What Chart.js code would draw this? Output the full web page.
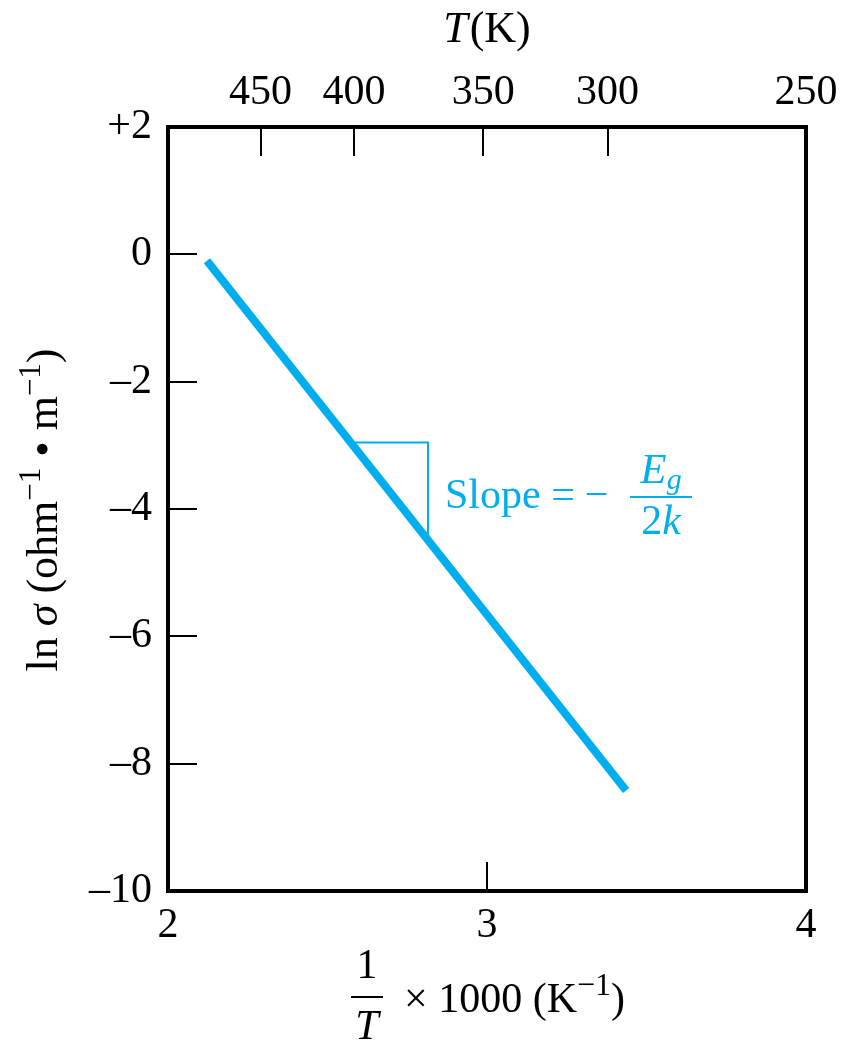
<!DOCTYPE html>
<html><head><meta charset="utf-8">
<script src="https://cdn.jsdelivr.net/npm/chart.js@4.4.1/dist/chart.umd.min.js"></script>
<style>html,body{margin:0;padding:0;background:#fff}#wrap{width:843px;height:1043px}</style>
</head><body><div id="wrap"><canvas id="c" width="843" height="1043"></canvas></div>
<script>
// ---- data ----
const lineX = [2.122, 3.436];
const lineY = [-0.10, -8.42];
const slopeTriX = [2.574, 2.815, 2.815];
const slopeTriY = [-2.954, -2.954, -4.49];
const xTickValues = [2, 3, 4];
const yTickValues = [2, 0, -2, -4, -6, -8, -10];
const tempTickPos = [2.29, 2.583, 2.988, 3.378, 4.0];
const tempTickLabels = ['450', '400', '350', '300', '250'];

const FONT = "'Liberation Serif', 'Times New Roman', serif";
const BLUE = '#00AEEF';
const TICK_FONT = { family: FONT, size: 42 };

function yLabel(v) {
  if (v > 0) return '+' + v;
  if (v < 0) return '\u2013' + Math.abs(v);
  return '0';
}

function drawRuns(ctx, x, y, runs) {
  for (const r of runs) {
    ctx.font = r.font;
    ctx.fillText(r.t, x, y + (r.dy || 0));
    x += ctx.measureText(r.t).width + (r.after || 0);
  }
  return x;
}
function runsWidth(ctx, runs) {
  let w = 0;
  for (const r of runs) { ctx.font = r.font; w += ctx.measureText(r.t).width + (r.after || 0); }
  return w;
}

const decor = {
  id: 'decor',
  afterDraw(chart) {
    const ctx = chart.ctx;
    const a = chart.chartArea;
    const sx = chart.scales.x, sy = chart.scales.y, st = chart.scales.x2;
    ctx.save();
    // inward tick marks
    ctx.strokeStyle = '#000';
    ctx.lineWidth = 2;
    const TL = 29;
    ctx.beginPath();
    yTickValues.forEach(v => {
      if (v === sy.max || v === sy.min) return;
      const p = Math.round(sy.getPixelForValue(v));
      ctx.moveTo(a.left, p); ctx.lineTo(a.left + TL, p);
    });
    tempTickPos.forEach(v => {
      if (v === st.max) return;
      const p = Math.round(st.getPixelForValue(v));
      ctx.moveTo(p, a.top); ctx.lineTo(p, a.top + TL);
    });
    xTickValues.forEach(v => {
      if (v === sx.max || v === sx.min) return;
      const p = Math.round(sx.getPixelForValue(v));
      ctx.moveTo(p, a.bottom); ctx.lineTo(p, a.bottom - TL);
    });
    ctx.stroke();
    // frame
    ctx.lineWidth = 4;
    ctx.strokeRect(a.left, a.top, a.right - a.left, a.bottom - a.top);

    ctx.fillStyle = '#000';
    ctx.textBaseline = 'alphabetic';
    ctx.textAlign = 'left';
    const R = '42px ' + FONT, I = 'italic 42px ' + FONT, S = '32px ' + FONT;

    // top title T(K)
    const tRuns = [{ t: 'T', font: 'italic 44px ' + FONT, after: 2 }, { t: '(K)', font: '44px ' + FONT }];
    const cxTop = (a.left + a.right) / 2;
    drawRuns(ctx, cxTop - runsWidth(ctx, tRuns) / 2, 42, tRuns);

    // y title (rotated)
    const YR = '44px ' + FONT, YI = 'italic 44px ' + FONT, YS = '31px ' + FONT;
    const yRuns = [
      { t: 'ln ', font: YR }, { t: '\u03C3', font: YI }, { t: ' (ohm', font: YR },
      { t: '\u22121', font: YS, dy: -17 }, { t: ' \u2022 ', font: YR }, { t: 'm', font: YR },
      { t: '\u22121', font: YS, dy: -17 }, { t: ')', font: YR }
    ];
    ctx.save();
    ctx.translate(57, (a.top + a.bottom) / 2 + 1);
    ctx.rotate(-Math.PI / 2);
    drawRuns(ctx, -runsWidth(ctx, yRuns) / 2, 0, yRuns);
    ctx.restore();

    // x title: 1/T x 1000 (K^-1)
    const fx = 367;
    ctx.textAlign = 'center';
    ctx.font = R; ctx.fillText('1', fx, 978);
    ctx.font = I; ctx.fillText('T', fx, 1039);
    ctx.fillRect(fx - 16, 996, 32, 2);
    ctx.textAlign = 'left';
    drawRuns(ctx, 404, 1012, [
      { t: '\u00D7 1000 (K', font: R },
      { t: '\u22121', font: S, dy: -17 }, { t: ')', font: R }
    ]);

    // slope annotation
    ctx.fillStyle = BLUE;
    const ax = Math.round(sx.getPixelForValue(slopeTriX[1])) + 17;
    const ay = 508;
    drawRuns(ctx, ax, ay, [{ t: 'Slope ', font: R }, { t: '=', font: R, after: 10 }, { t: '\u2212', font: R }]);
    const fcx = 661;
    const EI = 'italic 43px ' + FONT, GI = 'italic 30px ' + FONT;
    const eRuns = [{ t: 'E', font: EI }, { t: 'g', font: GI, dy: 6 }];
    drawRuns(ctx, fcx - runsWidth(ctx, eRuns) / 2, 483, eRuns);
    ctx.fillRect(fcx - 31, 496, 62, 2);
    const kRuns = [{ t: '2', font: R }, { t: 'k', font: I }];
    drawRuns(ctx, fcx - runsWidth(ctx, kRuns) / 2, 534, kRuns);
    ctx.restore();
  }
};

new Chart(document.getElementById('c'), {
  type: 'scatter',
  data: {
    datasets: [
      {
        data: lineX.map((x, i) => ({ x, y: lineY[i] })),
        showLine: true, borderColor: BLUE, borderWidth: 8, pointRadius: 0,
        borderCapStyle: 'butt', fill: false
      },
      {
        data: slopeTriX.map((x, i) => ({ x, y: slopeTriY[i] })),
        showLine: true, borderColor: BLUE, borderWidth: 2, pointRadius: 0, fill: false
      }
    ]
  },
  options: {
    responsive: false, animation: false, devicePixelRatio: 1,
    layout: { padding: { left: 0, right: 37, top: 0, bottom: 0 } },
    plugins: { legend: { display: false }, tooltip: { enabled: false } },
    scales: {
      x: {
        type: 'linear', position: 'bottom', min: 2, max: 4,
        grid: { display: false, drawTicks: false }, border: { display: false },
        afterBuildTicks: s => { s.ticks = xTickValues.map(v => ({ value: v })); },
        ticks: { font: TICK_FONT, color: '#000', padding: 10, autoSkip: false, maxRotation: 0,
          callback: v => String(v) },
        afterFit: s => { s.height = 152; s.paddingLeft = 0; s.paddingRight = 0; }
      },
      x2: {
        type: 'linear', position: 'top', min: 2, max: 4,
        grid: { display: false, drawTicks: false }, border: { display: false },
        afterBuildTicks: s => { s.ticks = tempTickPos.map(v => ({ value: v })); },
        ticks: { font: TICK_FONT, color: '#000', padding: 9, autoSkip: false, maxRotation: 0,
          callback: (v, i) => tempTickLabels[i] },
        afterFit: s => { s.height = 127; s.paddingLeft = 0; s.paddingRight = 0; }
      },
      y: {
        type: 'linear', position: 'left', min: -10, max: 2,
        grid: { display: false, drawTicks: false }, border: { display: false },
        afterBuildTicks: s => { s.ticks = yTickValues.map(v => ({ value: v })); },
        ticks: { font: TICK_FONT, color: '#000', padding: 16, autoSkip: false,
          callback: v => yLabel(v) },
        afterFit: s => { s.width = 168; s.paddingTop = 0; s.paddingBottom = 0; }
      }
    }
  },
  plugins: [decor]
});
</script>
</body></html>
